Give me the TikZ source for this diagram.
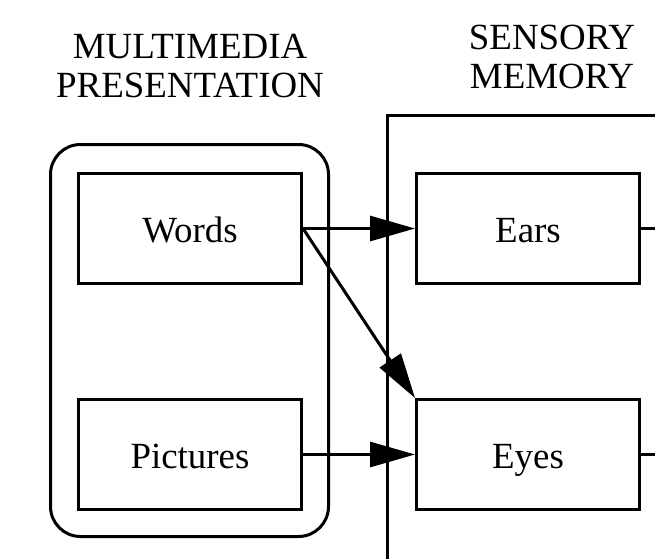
\documentclass[tikz,border=0pt]{standalone}
\usepackage{fontspec}
\setmainfont{Liberation Serif}
\usetikzlibrary{arrows.meta}

\tikzset{
	box/.style={draw, line width=0.06cm, minimum width=4.46cm, minimum height=2.2cm, text height=0.6cm, text depth=0.06cm},
	arr/.style={line width=0.06cm, -{Triangle[length=0.9cm,width=0.5cm]}}
}

\begin{document}
\begin{tikzpicture}[font=\fontsize{21}{22}\selectfont]
	\useasboundingbox (0,0) rectangle (13.1,11.16);

	\node[align=center] (mmhead) at (3.8,9.84) {MULTIMEDIA\\PRESENTATION};
	\node[align=center] (smhead) at (11.04,10.02) {SENSORY\\MEMORY};

	\node[draw, line width=0.06cm, rounded corners=0.6cm, minimum width=5.56cm, minimum height=7.84cm] (pres) at (3.79,4.35) {};
	\draw[line width=0.06cm] (13.2,8.86) -- (7.74,8.86) -- (7.74,-0.1);

	\node[box] (words) at (3.8,6.59) {Words};
	\node[box] (pictures) at (3.8,2.07) {Pictures};
	\node[box] (ears) at (10.56,6.59) {Ears};
	\node[box] (eyes) at (10.56,2.07) {Eyes};

	\coordinate (earsout) at (13.2,6.59);
	\coordinate (eyesout) at (13.2,2.07);

	\draw[arr] (words.east) -- (ears.west);
	\draw[arr] (words.east) -- (eyes.north west);
	\draw[arr] (pictures.east) -- (eyes.west);
	\draw[line width=0.06cm] (ears.east) -- (earsout);
	\draw[line width=0.06cm] (eyes.east) -- (eyesout);
\end{tikzpicture}
\end{document}
